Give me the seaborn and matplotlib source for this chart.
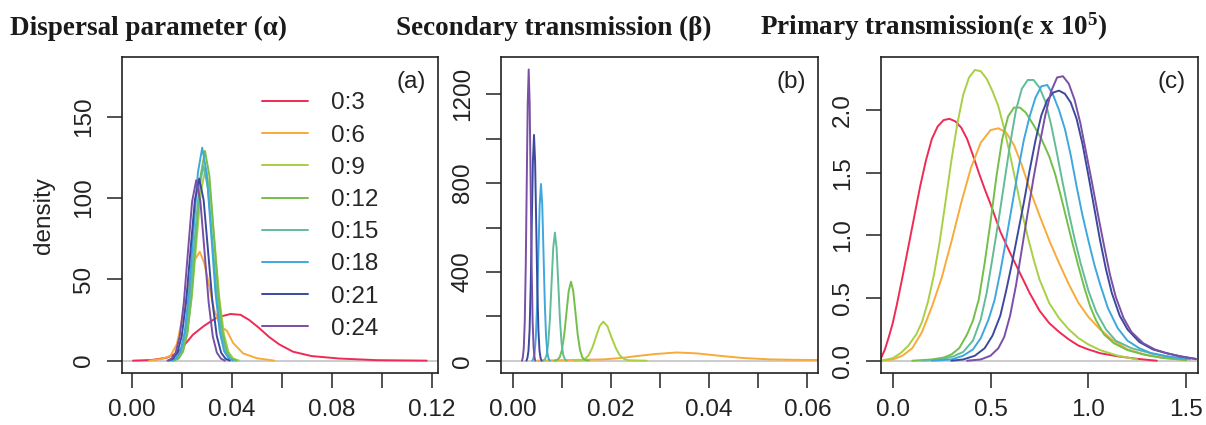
import numpy as np
import pandas as pd
import matplotlib
matplotlib.use("Agg")
import matplotlib.pyplot as plt
from matplotlib.lines import Line2D
import seaborn as sns

# weeks of data used in each fit
weeks = ["0:3", "0:6", "0:9", "0:12", "0:15", "0:18", "0:21", "0:24"]
colors = ["#EE2A55", "#F8AA3A", "#A8CF45", "#74BE4A", "#62BC98", "#3EA7DE", "#3B4A9E", "#7A4FA6"]

# (a) dispersal parameter alpha -- density curves
a_x = {
    "0:3": [0.0005, 0.008, 0.014, 0.018, 0.021, 0.0245, 0.029, 0.034, 0.0395, 0.0435, 0.047, 0.051, 0.055, 0.059, 0.0645, 0.072, 0.083, 0.098, 0.118],
    "0:6": [0.007, 0.012, 0.0155, 0.018, 0.0205, 0.023, 0.0252, 0.0272, 0.029, 0.031, 0.033, 0.0355, 0.038, 0.0405, 0.0445, 0.05, 0.057],
    "0:9": [0.0165, 0.0184, 0.02025, 0.0221, 0.02395, 0.0258, 0.02765, 0.0295, 0.03135, 0.0332, 0.03505, 0.0369, 0.03875, 0.0406, 0.043],
    "0:12": [0.0170, 0.0188, 0.02055, 0.0223, 0.02405, 0.0258, 0.02755, 0.0293, 0.03105, 0.0328, 0.03455, 0.0363, 0.03805, 0.0398, 0.042],
    "0:15": [0.0160, 0.0179, 0.0197, 0.0215, 0.0233, 0.0251, 0.0269, 0.0287, 0.0305, 0.0323, 0.0341, 0.0359, 0.0377, 0.0395, 0.0415],
    "0:18": [0.0160, 0.0177, 0.01945, 0.0212, 0.02295, 0.0247, 0.02645, 0.0282, 0.02995, 0.0317, 0.03345, 0.0352, 0.03695, 0.0387, 0.0405],
    "0:21": [0.0148, 0.0165, 0.01825, 0.0200, 0.02175, 0.0235, 0.02525, 0.0270, 0.02875, 0.0305, 0.03225, 0.0340, 0.03575, 0.0375, 0.0392],
    "0:24": [0.0143, 0.0159, 0.01755, 0.0192, 0.02085, 0.0225, 0.02415, 0.0258, 0.02745, 0.0291, 0.03075, 0.0324, 0.03405, 0.0357, 0.0373],
}
a_y = {
    "0:3": [0, 0.4, 1.8, 4.5, 9.5, 16, 21.5, 26.5, 28.7, 28.2, 25, 20, 14.5, 10, 5.5, 2.8, 1.3, 0.3, 0],
    "0:6": [0, 1, 3, 10, 28, 48, 62, 67, 60, 46, 31, 21, 18.5, 11, 4.5, 1.5, 0],
    "0:9": [0, 1.3, 5.2, 16, 38.3, 71.6, 104.1, 118, 104.1, 71.6, 38.3, 16, 5.2, 1.3, 0],
    "0:12": [0, 1.4, 5.7, 17.5, 41.9, 78.2, 113.8, 129, 113.8, 78.2, 41.9, 17.5, 5.7, 1.4, 0],
    "0:15": [0, 1.3, 5.3, 16.2, 39, 72.8, 105.9, 120, 105.9, 72.8, 39, 16.2, 5.3, 1.3, 0],
    "0:18": [0, 1.5, 5.8, 17.7, 42.5, 79.5, 115.6, 131, 115.6, 79.5, 42.5, 17.7, 5.8, 1.5, 0],
    "0:21": [0, 1.2, 4.9, 15.2, 36.4, 67.9, 98.8, 112, 98.8, 67.9, 36.4, 15.2, 4.9, 1.2, 0],
    "0:24": [0, 1.2, 4.9, 15, 36, 67.3, 98, 111, 98, 67.3, 36, 15, 4.9, 1.2, 0],
}

# (b) secondary transmission beta
b_x = {
    "0:6": [0.005, 0.0117, 0.0185, 0.0225, 0.0253, 0.029, 0.0334, 0.0375, 0.0422, 0.047, 0.0524, 0.0575, 0.0626],
    "0:9": [0.0125, 0.01395, 0.0147, 0.01545, 0.0162, 0.01695, 0.0177, 0.01845, 0.0193, 0.0201, 0.021, 0.0218, 0.0227, 0.0235, 0.0273],
    "0:12": [0.0085, 0.00911, 0.00957, 0.01003, 0.01049, 0.01095, 0.01141, 0.01187, 0.01233, 0.01279, 0.01325, 0.01371, 0.01417, 0.01463, 0.0155],
    "0:15": [0.0062, 0.00656, 0.0069, 0.00724, 0.00758, 0.00792, 0.00826, 0.0086, 0.00894, 0.00928, 0.00962, 0.00996, 0.0103, 0.01064, 0.011],
    "0:18": [0.0040, 0.0042, 0.00446, 0.00472, 0.00498, 0.00524, 0.0055, 0.00576, 0.00602, 0.00628, 0.00654, 0.0068, 0.00706, 0.00732, 0.0076],
    "0:21": [0.0028, 0.00299, 0.003215, 0.00344, 0.003665, 0.00389, 0.004115, 0.00434, 0.004565, 0.00479, 0.005015, 0.00524, 0.005465, 0.00569, 0.0059],
    "0:24": [0.0019, 0.00206, 0.00226, 0.00246, 0.00266, 0.00286, 0.00306, 0.00326, 0.00346, 0.00366, 0.00386, 0.00406, 0.00426, 0.00446, 0.0046],
}
b_y = {
    "0:6": [0, 3, 6, 13, 21, 30, 37, 33, 22, 12, 6, 4, 3],
    "0:9": [0, 2, 7.7, 23.8, 57.1, 106.7, 155.3, 176, 155, 106.7, 57, 23.8, 7.7, 2, 0],
    "0:12": [0, 4, 15.6, 48.2, 115.6, 215.9, 314.2, 356, 314.2, 215.9, 115.6, 48.2, 15.6, 4, 0],
    "0:15": [0, 6.4, 25.3, 78.1, 187.4, 350, 509.2, 577, 509.2, 350, 187.4, 78.1, 25.3, 6.4, 0],
    "0:18": [0, 8.8, 34.9, 107.7, 258.5, 482.8, 702.5, 796, 702.5, 482.8, 258.5, 107.7, 34.9, 8.8, 0],
    "0:21": [0, 11.3, 44.6, 137.6, 330.2, 616.8, 897.5, 1017, 897.5, 616.8, 330.2, 137.6, 44.6, 11.3, 0],
    "0:24": [0, 14.6, 57.6, 177.5, 426, 795.7, 1157.8, 1312, 1157.8, 795.7, 426, 177.5, 57.6, 14.6, 0],
}

# (c) primary transmission epsilon x 1e5
c_x = {
    "0:3": [-0.06, -0.04, -0.02, 0.0, 0.02, 0.05, 0.08, 0.11, 0.14, 0.17, 0.20, 0.23, 0.26, 0.29, 0.32, 0.35, 0.38, 0.41, 0.44, 0.47, 0.50, 0.55, 0.60, 0.65, 0.70, 0.75, 0.80, 0.85, 0.90, 0.95, 1.00, 1.06, 1.15, 1.25, 1.35],
    "0:6": [-0.06, 0.0, 0.05, 0.10, 0.15, 0.20, 0.25, 0.30, 0.35, 0.40, 0.45, 0.50, 0.54, 0.58, 0.62, 0.66, 0.70, 0.75, 0.80, 0.85, 0.90, 0.95, 1.00, 1.06, 1.12, 1.20, 1.30, 1.40, 1.50],
    "0:9": [-0.06, 0.0, 0.04, 0.08, 0.12, 0.15, 0.18, 0.21, 0.24, 0.27, 0.30, 0.33, 0.36, 0.39, 0.42, 0.45, 0.48, 0.51, 0.54, 0.57, 0.60, 0.63, 0.66, 0.69, 0.72, 0.75, 0.80, 0.85, 0.90, 0.95, 1.00, 1.06, 1.15, 1.25],
    "0:12": [0.10, 0.20, 0.26, 0.30, 0.34, 0.38, 0.41, 0.44, 0.47, 0.50, 0.53, 0.56, 0.59, 0.62, 0.65, 0.68, 0.72, 0.76, 0.80, 0.83, 0.86, 0.89, 0.92, 0.95, 0.98, 1.01, 1.04, 1.08, 1.13, 1.20, 1.28, 1.37, 1.50],
    "0:15": [0.15, 0.25, 0.31, 0.36, 0.41, 0.45, 0.48, 0.51, 0.54, 0.57, 0.60, 0.63, 0.66, 0.69, 0.72, 0.75, 0.78, 0.81, 0.84, 0.87, 0.90, 0.93, 0.96, 1.00, 1.04, 1.09, 1.14, 1.22, 1.32, 1.42, 1.52],
    "0:18": [0.20, 0.30, 0.36, 0.41, 0.45, 0.49, 0.52, 0.55, 0.58, 0.61, 0.64, 0.67, 0.70, 0.73, 0.76, 0.79, 0.82, 0.85, 0.88, 0.91, 0.94, 0.97, 1.00, 1.03, 1.06, 1.10, 1.15, 1.20, 1.26, 1.32, 1.40, 1.50],
    "0:21": [0.30, 0.36, 0.42, 0.47, 0.51, 0.55, 0.58, 0.61, 0.64, 0.67, 0.70, 0.73, 0.76, 0.79, 0.82, 0.85, 0.88, 0.91, 0.94, 0.97, 1.00, 1.03, 1.06, 1.09, 1.12, 1.16, 1.20, 1.26, 1.33, 1.40, 1.47, 1.55],
    "0:24": [0.38, 0.45, 0.50, 0.54, 0.57, 0.60, 0.63, 0.66, 0.69, 0.72, 0.75, 0.78, 0.81, 0.84, 0.87, 0.90, 0.93, 0.96, 0.99, 1.02, 1.05, 1.08, 1.11, 1.14, 1.18, 1.22, 1.28, 1.34, 1.40, 1.47, 1.55],
}
c_y = {
    "0:3": [0.02, 0.09, 0.19, 0.30, 0.44, 0.67, 0.91, 1.15, 1.39, 1.60, 1.77, 1.87, 1.92, 1.93, 1.91, 1.86, 1.77, 1.64, 1.50, 1.37, 1.25, 1.03, 0.86, 0.70, 0.54, 0.40, 0.30, 0.23, 0.17, 0.12, 0.09, 0.06, 0.035, 0.015, 0.0],
    "0:6": [0.0, 0.01, 0.04, 0.10, 0.23, 0.43, 0.66, 0.95, 1.26, 1.54, 1.74, 1.84, 1.855, 1.82, 1.72, 1.56, 1.37, 1.16, 0.96, 0.78, 0.61, 0.46, 0.35, 0.25, 0.17, 0.09, 0.045, 0.02, 0.005],
    "0:9": [0.0, 0.02, 0.06, 0.12, 0.21, 0.31, 0.47, 0.68, 0.95, 1.27, 1.60, 1.89, 2.12, 2.26, 2.32, 2.31, 2.25, 2.15, 2.03, 1.85, 1.64, 1.42, 1.19, 0.99, 0.81, 0.65, 0.46, 0.34, 0.25, 0.18, 0.13, 0.085, 0.04, 0.01],
    "0:12": [0.0, 0.01, 0.025, 0.05, 0.10, 0.21, 0.32, 0.49, 0.78, 1.11, 1.47, 1.77, 1.95, 2.02, 2.02, 1.98, 1.88, 1.77, 1.63, 1.49, 1.31, 1.12, 0.93, 0.75, 0.58, 0.43, 0.32, 0.21, 0.14, 0.085, 0.05, 0.024, 0.005],
    "0:15": [0.0, 0.01, 0.035, 0.07, 0.16, 0.33, 0.54, 0.82, 1.11, 1.42, 1.73, 2.00, 2.17, 2.24, 2.24, 2.18, 2.07, 1.88, 1.65, 1.41, 1.18, 0.97, 0.78, 0.56, 0.39, 0.25, 0.16, 0.10, 0.06, 0.03, 0.01],
    "0:18": [0.0, 0.01, 0.04, 0.09, 0.18, 0.33, 0.48, 0.71, 0.97, 1.24, 1.51, 1.76, 1.95, 2.10, 2.19, 2.20, 2.12, 2.00, 1.85, 1.64, 1.39, 1.16, 0.96, 0.77, 0.61, 0.42, 0.26, 0.16, 0.10, 0.06, 0.035, 0.015],
    "0:21": [0.0, 0.01, 0.04, 0.10, 0.20, 0.36, 0.56, 0.78, 1.02, 1.26, 1.52, 1.76, 1.96, 2.08, 2.14, 2.155, 2.13, 2.06, 1.93, 1.73, 1.48, 1.22, 0.96, 0.73, 0.54, 0.36, 0.25, 0.15, 0.09, 0.06, 0.035, 0.015],
    "0:24": [0.0, 0.01, 0.04, 0.10, 0.19, 0.36, 0.60, 0.89, 1.18, 1.46, 1.72, 1.96, 2.15, 2.26, 2.27, 2.21, 2.08, 1.89, 1.65, 1.41, 1.16, 0.92, 0.69, 0.51, 0.34, 0.23, 0.14, 0.09, 0.06, 0.035, 0.012],
}

titles = ["Dispersal parameter (\u03b1)", "Secondary transmission (\u03b2)",
          "Primary transmission(\u03b5 x 10$^{5}$)"]
panel_tags = ["(a)", "(b)", "(c)"]

sns.set_theme(style="ticks")
plt.rcParams["font.family"] = ["Liberation Sans", "DejaVu Sans"]
plt.rcParams["mathtext.fontset"] = "custom"
plt.rcParams["mathtext.rm"] = "Liberation Serif:bold"
plt.rcParams["mathtext.it"] = "Liberation Serif:bold"
plt.rcParams["mathtext.bf"] = "Liberation Serif:bold"

palette = dict(zip(weeks, colors))
W, H = 1206, 425
fig = plt.figure(figsize=(W / 100, H / 100), dpi=100)


def make_ax(left, right, top=57.3, bottom=373):
    return fig.add_axes([left / W, 1 - bottom / H, (right - left) / W, (bottom - top) / H])


def long_frame(xs, ys):
    rows = []
    for wk in weeks:
        if wk not in xs:
            continue
        for xv, yv in zip(xs[wk], ys[wk]):
            rows.append((wk, xv, yv))
    return pd.DataFrame(rows, columns=["week", "x", "density"])


axes = [make_ax(122, 438), make_ax(501, 818.3), make_ax(881, 1197.7)]
data = [(a_x, a_y), (b_x, b_y), (c_x, c_y)]
xlims = [(-0.0039, 0.1225), (-0.00238, 0.06224), (-0.06, 1.559)]
ylims = [(-7.6, 186.6), (-55.4, 1366.7), (-0.098, 2.421)]
xticks = [[0.0, 0.02, 0.04, 0.06, 0.08, 0.10, 0.12], [0, 0.01, 0.02, 0.03, 0.04, 0.05, 0.06], [0.0, 0.5, 1.0, 1.5]]
xlabels = [["0.00", "", "0.04", "", "0.08", "", "0.12"], ["0.00", "", "0.02", "", "0.04", "", "0.06"], ["0.0", "0.5", "1.0", "1.5"]]
yticks = [[0, 50, 100, 150], [0, 200, 400, 600, 800, 1000, 1200], [0.0, 0.5, 1.0, 1.5, 2.0]]
ylabels = [["0", "50", "100", "150"], ["0", "", "400", "", "800", "", "1200"], ["0.0", "0.5", "1.0", "1.5", "2.0"]]

for i, ax in enumerate(axes):
    xs, ys = data[i]
    ax.axhline(0, color="#C8C8C8", lw=1.3, zorder=1)
    df = long_frame(xs, ys)
    sns.lineplot(data=df, x="x", y="density", hue="week", palette=palette,
                 estimator=None, sort=False, legend=False, linewidth=1.4, ax=ax)
    ax.set_xlim(*xlims[i])
    ax.set_ylim(*ylims[i])
    ax.set_xticks(xticks[i])
    ax.set_xticklabels(xlabels[i])
    ax.set_yticks(yticks[i])
    ax.set_yticklabels(ylabels[i], rotation=90, va="center")
    ax.set_xlabel("")
    ax.set_ylabel("")
    ax.tick_params(length=10.5, width=1.1, color="#222222", labelsize=17.5,
                   labelcolor="#222222")
    ax.tick_params(axis="x", pad=8.5)
    ax.tick_params(axis="y", pad=9)
    for sp in ax.spines.values():
        sp.set_visible(True)
        sp.set_linewidth(1.2)
        sp.set_color("#222222")
    ax.text(0.962, 0.923, panel_tags[i], transform=ax.transAxes, ha="right",
            va="center", fontsize=17.5, color="#222222")

axes[0].set_ylabel("density", fontsize=17.5, color="#222222")
axes[0].yaxis.set_label_coords(-0.212, 0.5)

handles = [Line2D([], [], color=c, lw=1.4) for c in colors]
axes[0].legend(handles, weeks, loc="upper left", bbox_to_anchor=(0.443, 0.889),
               frameon=False, fontsize=17.5, handlelength=1.9, handletextpad=0.95,
               labelspacing=0.42, borderpad=0, borderaxespad=0)

title_x = [10, 396, 760]
for tx, t in zip(title_x, titles):
    fig.text(tx / W, 1 - 35 / H, t, ha="left", va="baseline", fontsize=19.5,
             fontweight="bold", family="Liberation Serif", color="#1a1a1a")

fig.savefig("out.png", dpi=100)
